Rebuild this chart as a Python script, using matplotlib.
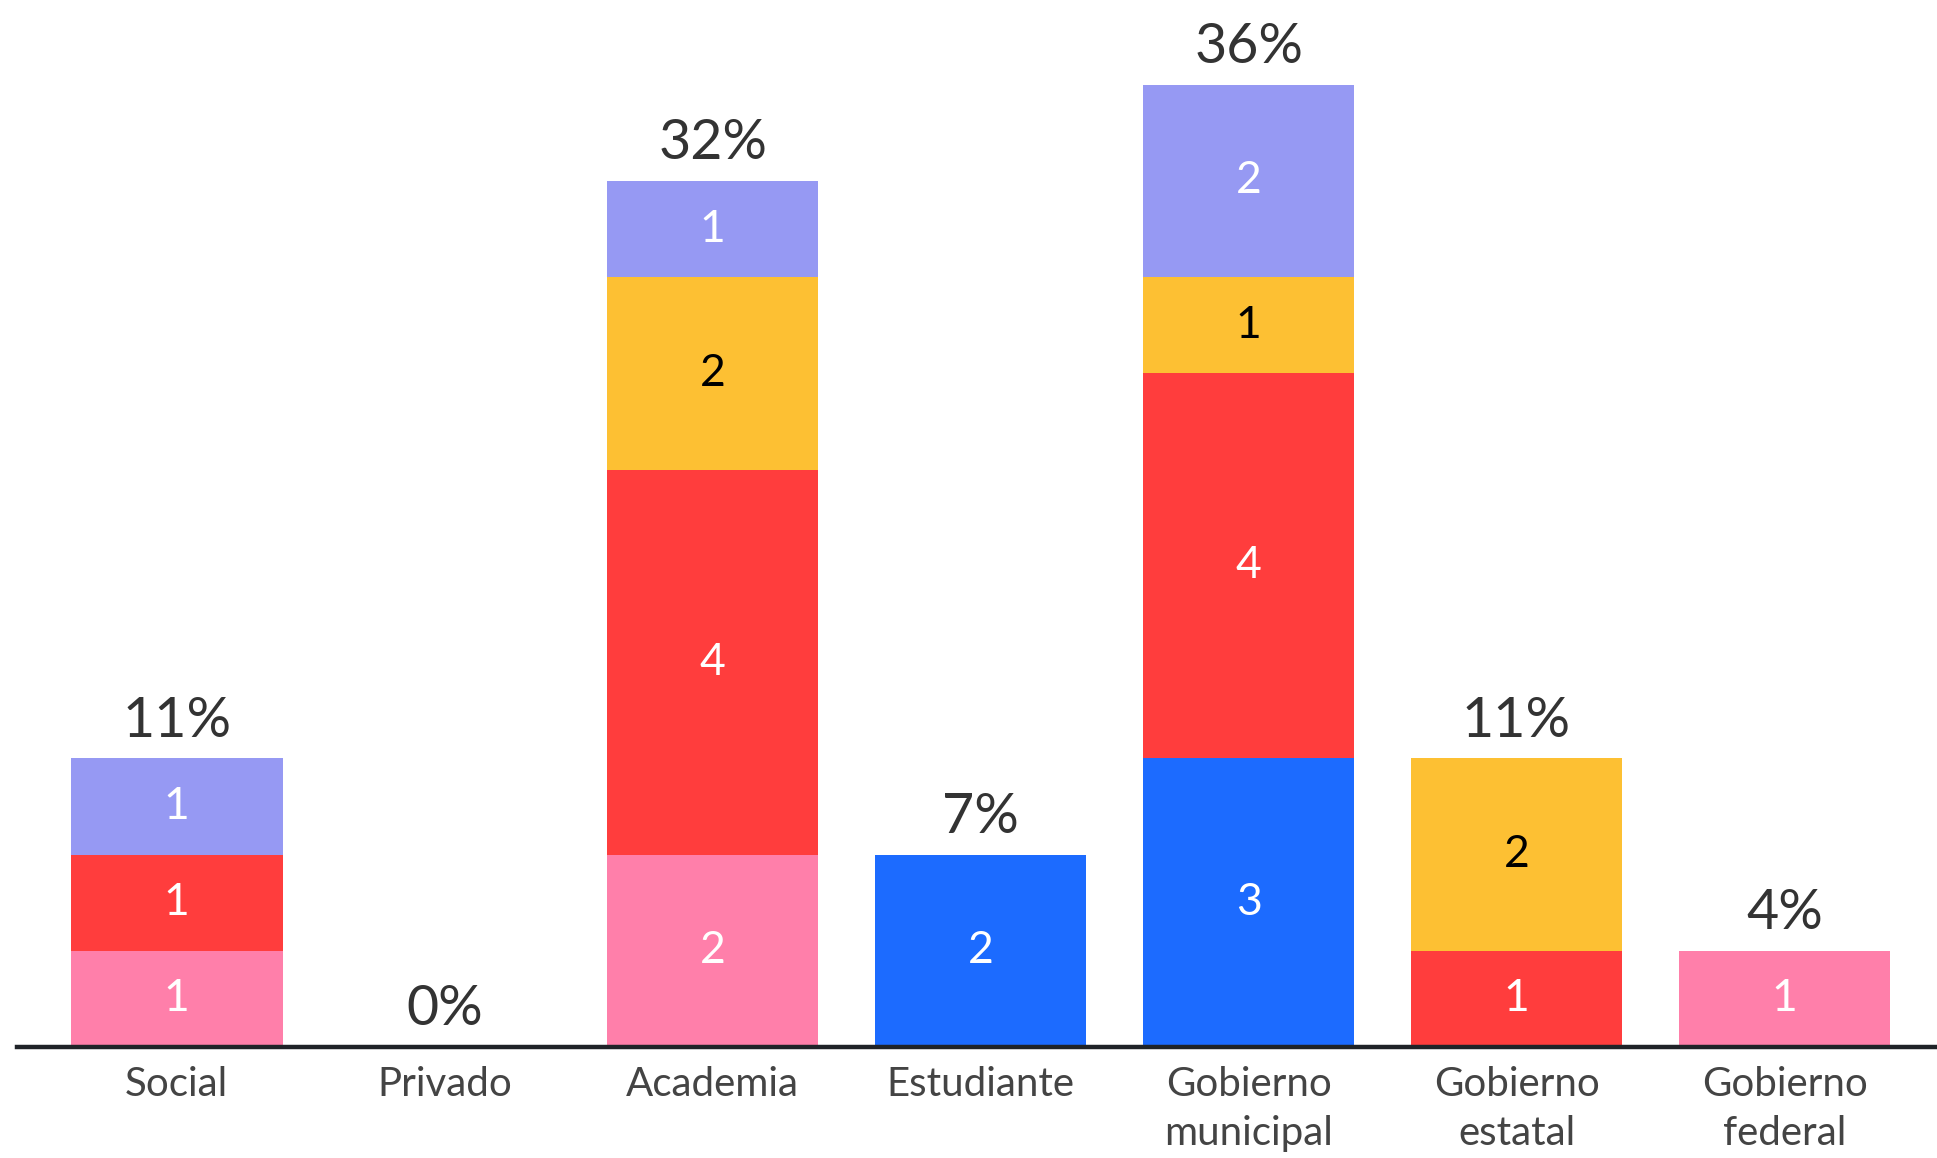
import matplotlib
matplotlib.use("Agg")
import matplotlib.pyplot as plt
import numpy as np

# Categories and stacked counts (bottom to top)
categories = ["Social", "Privado", "Academia", "Estudiante",
              "Gobierno\nmunicipal", "Gobierno\nestatal", "Gobierno\nfederal"]
series_names = ["rosa", "azul", "rojo", "amarillo", "lila"]
rosa = [1, 0, 2, 0, 0, 0, 1]
azul = [0, 0, 0, 2, 3, 0, 0]
rojo = [1, 0, 4, 0, 4, 1, 0]
amarillo = [0, 0, 2, 0, 1, 2, 0]
lila = [1, 0, 1, 0, 2, 0, 0]
pct_labels = ["11%", "0%", "32%", "7%", "36%", "11%", "4%"]

colors = ["#FF7FAA", "#1C6BFF", "#FF3D3D", "#FDC033", "#9699F3"]
text_colors = ["white", "white", "white", "black", "white"]

plt.rcParams['font.family'] = ['Lato', 'DejaVu Sans']

fig = plt.figure(figsize=(19.37, 11.58), dpi=100)
ax = fig.add_axes([17 / 1937, 111 / 1158, 1 - 17 / 1937, 1 - 111 / 1158])

x = np.arange(len(categories))
width = 0.79
bottom = np.zeros(len(categories))
for vals, col, tcol in zip([rosa, azul, rojo, amarillo, lila], colors, text_colors):
    vals = np.array(vals, dtype=float)
    ax.bar(x, vals, width, bottom=bottom, color=col, linewidth=0)
    for xi, v, b in zip(x, vals, bottom):
        if v > 0:
            ax.text(xi, b + v / 2, f"{int(v)}", ha='center', va='center',
                    color=tcol, fontsize=32)
    bottom += vals

for xi, total, lab in zip(x, bottom, pct_labels):
    ax.text(xi, total + 0.12, lab, ha='center', va='bottom',
            color='#333333', fontsize=40)

ax.set_xlim(-0.596, 6.569)
ax.set_ylim(0, 10.88)
ax.axhline(0, color='#1f2328', linewidth=3.2, zorder=5, clip_on=False)

for s in ax.spines.values():
    s.set_visible(False)
ax.set_yticks([])
ax.set_xticks(x)
ax.set_xticklabels(categories, fontsize=29, color='#444444', linespacing=1.4)
ax.tick_params(axis='x', length=0, pad=14)

fig.savefig("out.png", dpi=100)
